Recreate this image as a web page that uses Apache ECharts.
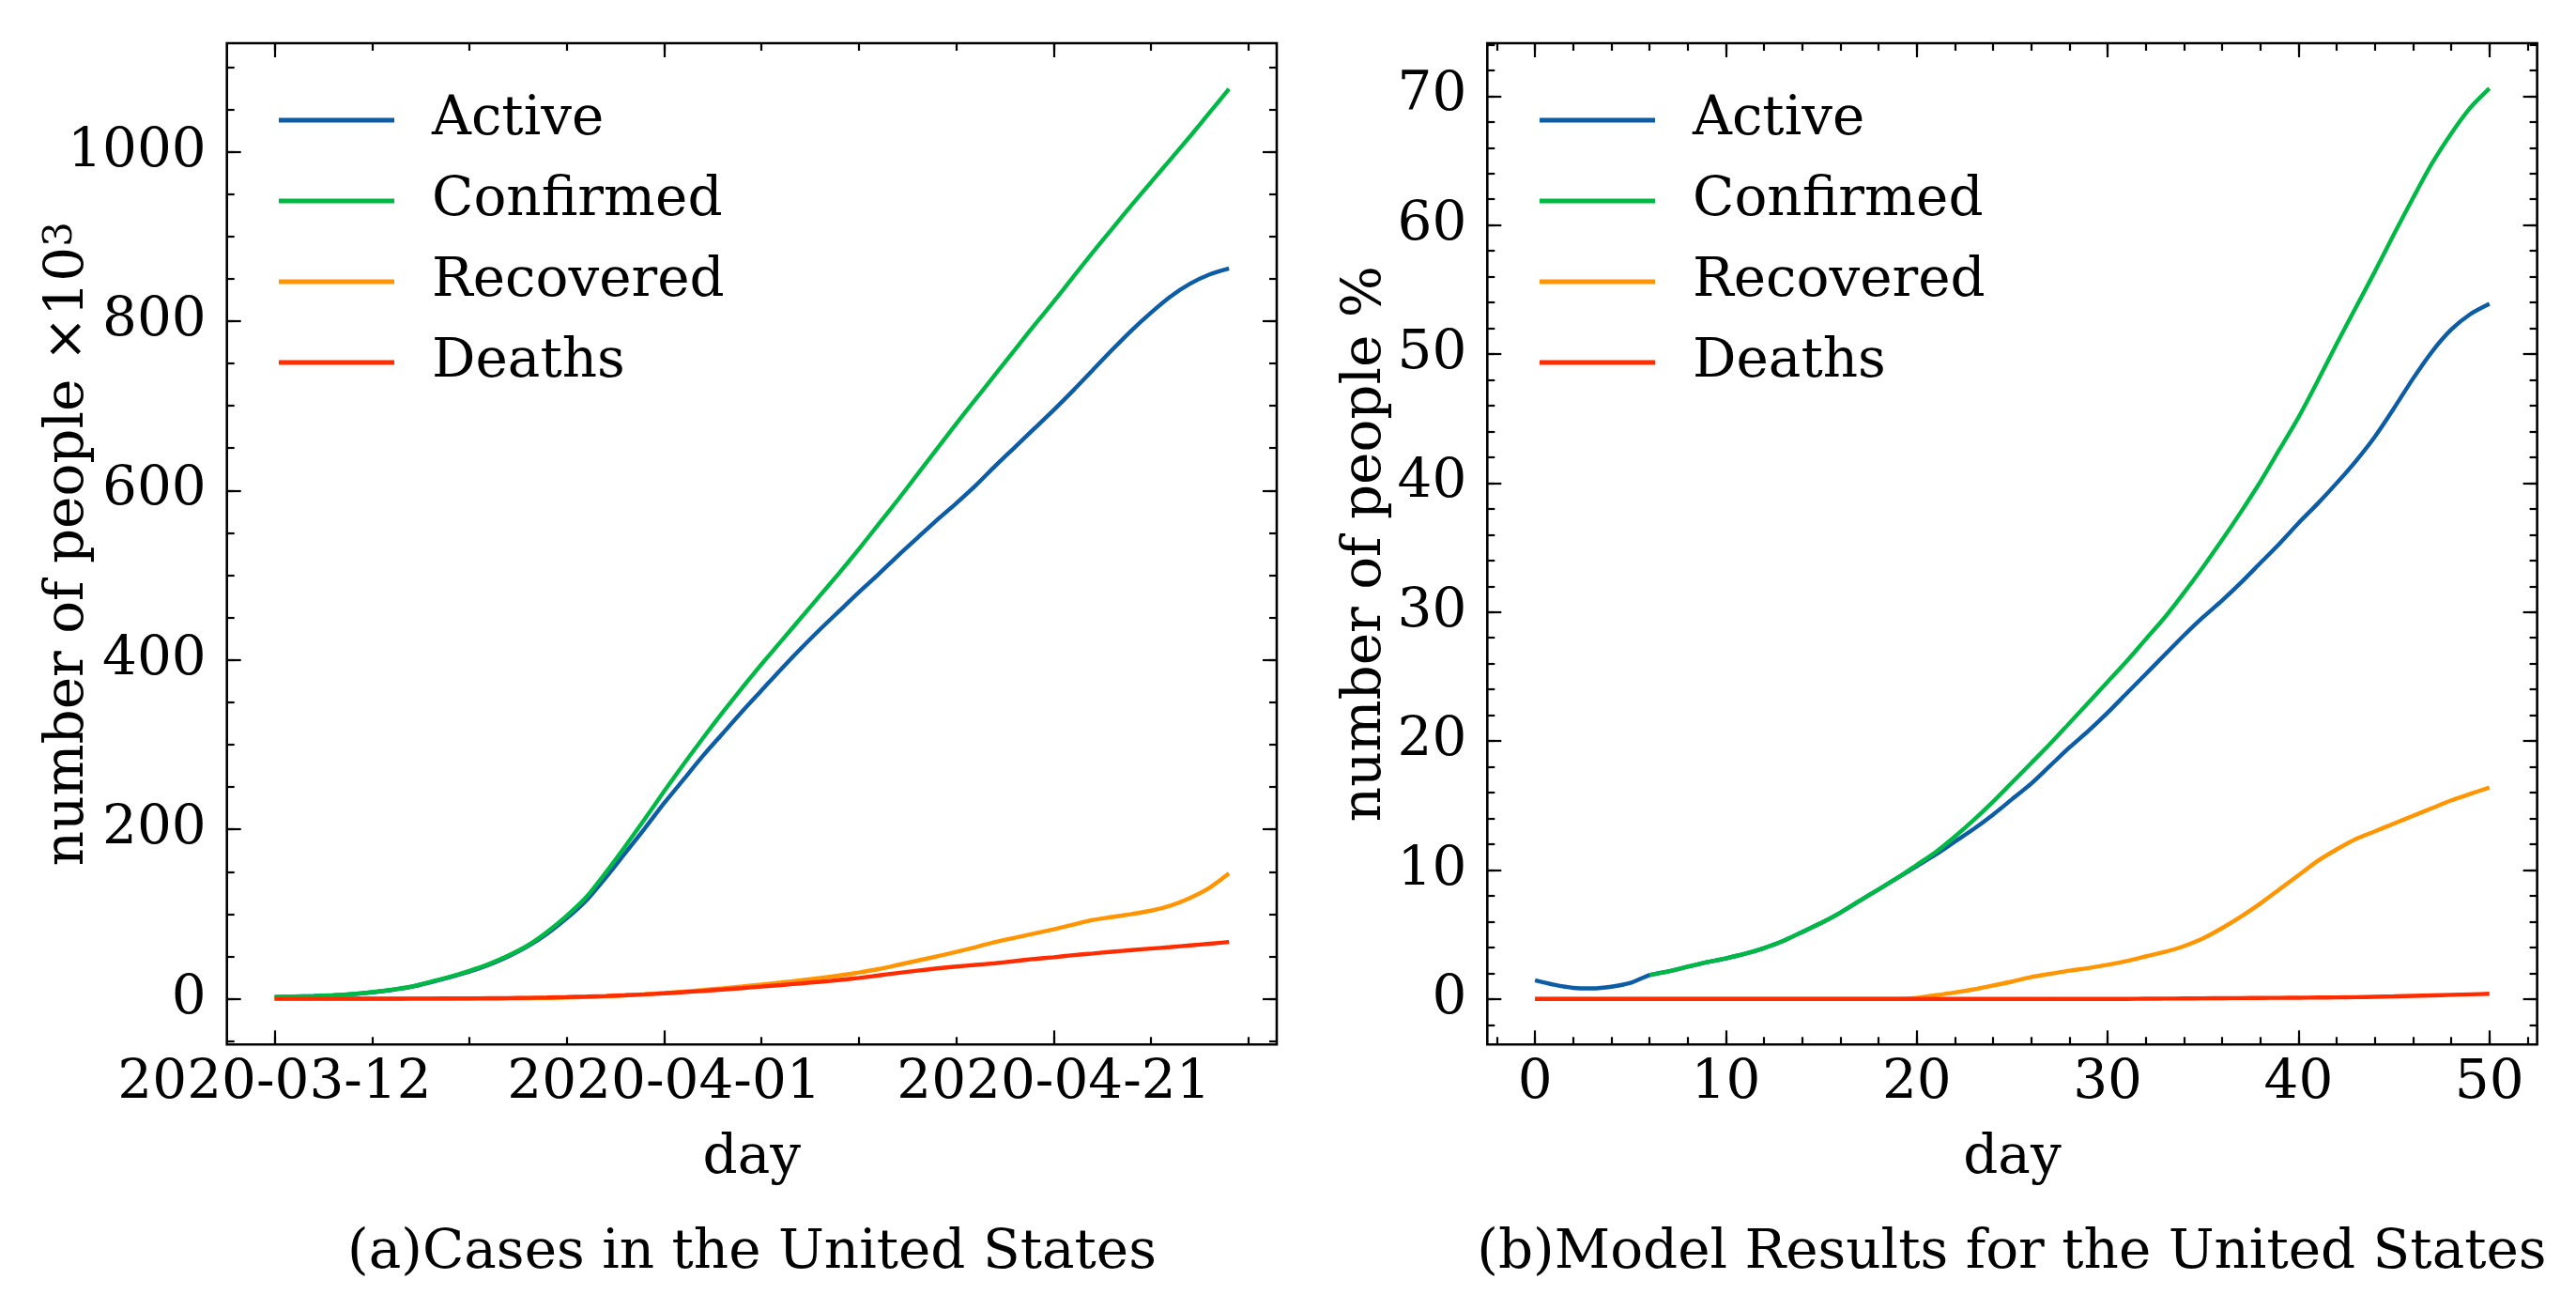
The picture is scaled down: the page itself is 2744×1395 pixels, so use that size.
<!DOCTYPE html>
<html>
<head>
<meta charset="utf-8">
<title>Cases and model results for the United States</title>
<script src="https://cdn.jsdelivr.net/npm/echarts@6/dist/echarts.min.js"></script>
<style>
  html, body { margin: 0; padding: 0; background: #fff; }
  #chart { width: 2744px; height: 1395px; }
</style>
</head>
<body>
<div id="chart"></div>
<script>
// (a) reported cases, thousands of people
const dates = [
  "2020-03-12", "2020-03-13", "2020-03-14", "2020-03-15", "2020-03-16",
  "2020-03-17", "2020-03-18", "2020-03-19", "2020-03-20", "2020-03-21",
  "2020-03-22", "2020-03-23", "2020-03-24", "2020-03-25", "2020-03-26",
  "2020-03-27", "2020-03-28", "2020-03-29", "2020-03-30", "2020-03-31",
  "2020-04-01", "2020-04-02", "2020-04-03", "2020-04-04", "2020-04-05",
  "2020-04-06", "2020-04-07", "2020-04-08", "2020-04-09", "2020-04-10",
  "2020-04-11", "2020-04-12", "2020-04-13", "2020-04-14", "2020-04-15",
  "2020-04-16", "2020-04-17", "2020-04-18", "2020-04-19", "2020-04-20",
  "2020-04-21", "2020-04-22", "2020-04-23", "2020-04-24", "2020-04-25",
  "2020-04-26", "2020-04-27", "2020-04-28", "2020-04-29", "2020-04-30"
];
const casesActive = [
  2.2, 2.6, 3.2, 4.1, 5.5, 7.6, 10.4, 14.0, 19.5, 25.5,
  32, 40, 50, 62, 77, 95, 116, 143, 172, 201,
  231, 259, 287, 313, 339, 364, 389, 413, 436, 458,
  480, 501, 523, 544, 565, 585, 606, 629, 651, 673,
  695, 718, 742, 766, 789, 810, 829, 844, 855, 862
];
const casesConfirmed = [
  2.2, 2.7, 3.3, 4.2, 5.6, 7.8, 10.6, 14.2, 20, 26,
  33, 41, 51, 63, 79, 98, 120, 149, 180, 212,
  245, 277, 308, 338, 367, 395, 422, 449, 476, 503,
  531, 560, 589, 619, 649, 679, 708, 737, 766, 795,
  823, 852, 881, 909, 937, 964, 991, 1018, 1046, 1074
];
const casesRecovered = [
  0.01, 0.01, 0.01, 0.02, 0.02, 0.03, 0.05, 0.07, 0.1, 0.15,
  0.3, 0.4, 0.5, 0.7, 1.0, 1.5, 2.2, 3.0, 4.0, 5.3,
  6.8, 8.5, 10.4, 12.4, 14.5, 16.8, 19.2, 21.7, 24.5, 27.5,
  31, 35, 40, 45, 50, 55.5, 61, 67, 72, 77,
  82, 87.5, 93, 96.5, 100, 104, 110, 119, 131, 148
];
const casesDeaths = [
  0.04, 0.05, 0.06, 0.07, 0.09, 0.11, 0.15, 0.2, 0.26, 0.34,
  0.45, 0.6, 0.8, 1.1, 1.5, 2.0, 2.6, 3.3, 4.2, 5.2,
  6.4, 7.8, 9.3, 10.9, 12.6, 14.4, 16.2, 18.1, 20.0, 22.2,
  24.6, 27.5, 30.5, 33.2, 35.8, 38, 40, 42, 44.5, 47,
  49, 51.5, 53.5, 55.5, 57.5, 59.3, 61, 63, 65, 67
];
const dateTickLabels = ["2020-03-12", "2020-04-01", "2020-04-21"];

// (b) model results, percent of people
const modelDays = [
  0, 1, 2, 3, 4, 5, 6, 7, 8, 9, 10, 11, 12, 13, 14, 15, 16, 17, 18, 19, 20,
  21, 22, 23, 24, 25, 26, 27, 28, 29, 30, 31, 32, 33, 34, 35, 36, 37, 38, 39, 40,
  41, 42, 43, 44, 45, 46, 47, 48, 49, 50
];
const modelActive = [
  1.45, 1.1, 0.86, 0.82, 0.95, 1.25, 1.85, 2.15, 2.5, 2.85,
  3.15, 3.5, 3.95, 4.5, 5.2, 5.9, 6.7, 7.6, 8.5, 9.4,
  10.3, 11.2, 12.2, 13.2, 14.3, 15.5, 16.7, 18.1, 19.5, 20.8,
  22.2, 23.7, 25.2, 26.7, 28.2, 29.6, 30.9, 32.3, 33.8, 35.3,
  36.9, 38.4, 40.0, 41.7, 43.6, 45.8, 48.1, 50.2, 51.9, 53.1, 53.9
];
const modelConfirmed = [
  null, null, null, null, null, null, 1.85, 2.15, 2.5, 2.85,
  3.15, 3.5, 3.95, 4.5, 5.2, 5.9, 6.7, 7.6, 8.5, 9.4,
  10.4, 11.4, 12.6, 13.9, 15.3, 16.8, 18.3, 19.8, 21.4, 23.0,
  24.6, 26.2, 27.9, 29.6, 31.5, 33.5, 35.6, 37.8, 40.1, 42.6,
  45.1, 47.9, 50.8, 53.6, 56.4, 59.3, 62.1, 64.8, 67.1, 69.1, 70.6
];
const modelRecovered = [
  0, 0, 0, 0, 0, 0, 0, 0, 0, 0,
  0, 0, 0, 0, 0, 0, 0, 0, 0, 0,
  0.08, 0.3, 0.5, 0.75, 1.05, 1.35, 1.7, 1.95, 2.2, 2.4,
  2.65, 2.95, 3.3, 3.65, 4.1, 4.7, 5.5, 6.4, 7.4, 8.5,
  9.6, 10.7, 11.6, 12.4, 13.0, 13.6, 14.2, 14.8, 15.4, 15.9, 16.4
];
const modelDeaths = [
  0, 0, 0, 0, 0, 0, 0, 0, 0, 0,
  0, 0, 0, 0, 0, 0, 0, 0, 0, 0,
  0, 0, 0, 0, 0, 0, 0, 0, 0, 0,
  0.01, 0.01, 0.02, 0.03, 0.04, 0.05, 0.06, 0.07, 0.08, 0.09,
  0.1, 0.11, 0.12, 0.14, 0.17, 0.2, 0.24, 0.28, 0.32, 0.36, 0.4
];

const seriesNames = ["Active", "Confirmed", "Recovered", "Deaths"];
const colors = ["#0C5DA5", "#00B945", "#FF9500", "#FF2C00"];

const FONT = "DejaVu Serif";
const FS = 58;

// x positions of the dates for plot (a)
const dayIndex = dates.map((d, i) => i);
const dateTicks = dateTickLabels.map((d) => dates.indexOf(d));

function ticksBetween(lo, hi, step) {
  const out = [];
  for (let v = Math.ceil(lo / step) * step; v <= hi + 1e-9; v += step) {
    out.push(+v.toFixed(6));
  }
  return out;
}

// one axis = ticks (and maybe labels) on one side of one grid
function makeAxis(gridIndex, position, range, ticks, tickLen, label, name) {
  const ax = {
    type: "value",
    gridIndex: gridIndex,
    position: position,
    min: range[0],
    max: range[1],
    axisLine: { show: false, onZero: false },
    splitLine: { show: false },
    axisTick: {
      show: true,
      inside: true,
      length: tickLen,
      customValues: ticks,
      lineStyle: { color: "#000", width: 2.2 },
    },
    axisLabel: { show: false },
  };
  if (label) {
    ax.axisLabel = {
      show: true,
      customValues: ticks,
      formatter: label.formatter,
      margin: label.margin,
      fontFamily: FONT,
      fontSize: FS,
      color: "#000",
    };
  }
  if (name) {
    ax.name = name.text;
    ax.nameLocation = "middle";
    ax.nameGap = name.gap;
    ax.nameMoveOverlap = false;
    ax.nameTextStyle = {
      fontFamily: FONT,
      fontSize: FS,
      color: "#000",
      rich: {
        sup: { fontFamily: FONT, fontSize: 42, color: "#000", verticalAlign: "top", lineHeight: 58 },
      },
    };
  }
  return ax;
}

function buildAxes(gridIndex, xr, yr, xMaj, xMin, yMaj, yMin, xFmt, xName, yName, yGap) {
  const xAxes = [
    makeAxis(gridIndex, "bottom", xr, xMaj, 15, { formatter: xFmt, margin: 13 }, { text: xName, gap: 93 }),
    makeAxis(gridIndex, "bottom", xr, xMin, 8),
    makeAxis(gridIndex, "top", xr, xMaj, 15),
    makeAxis(gridIndex, "top", xr, xMin, 8),
  ];
  const yAxes = [
    makeAxis(gridIndex, "left", yr, yMaj, 15, { formatter: (v) => String(v), margin: 22 }, { text: yName, gap: yGap }),
    makeAxis(gridIndex, "left", yr, yMin, 8),
    makeAxis(gridIndex, "right", yr, yMaj, 15),
    makeAxis(gridIndex, "right", yr, yMin, 8),
  ];
  return { xAxes, yAxes };
}

const rangeAX = [-2.45, 51.45];
const rangeAY = [-54, 1128];
const rangeBX = [-2.5, 52.5];
const rangeBY = [-3.53, 74.1];

const axesA = buildAxes(
  0, rangeAX, rangeAY,
  dateTicks, ticksBetween(rangeAX[0], rangeAX[1], 5),
  ticksBetween(0, 1000, 200), ticksBetween(rangeAY[0], rangeAY[1], 50),
  (v) => dates[v], "day", "number of people ×10{sup|3}", 140
);
const axesB = buildAxes(
  1, rangeBX, rangeBY,
  ticksBetween(0, 50, 10), ticksBetween(rangeBX[0], rangeBX[1], 2),
  ticksBetween(0, 70, 10), ticksBetween(rangeBY[0], rangeBY[1], 2),
  (v) => String(v), "day", "number of people %", 100
);

function lineSeries(name, color, xs, ys, axisIndex) {
  return {
    name: name,
    type: "line",
    xAxisIndex: axisIndex,
    yAxisIndex: axisIndex,
    data: xs.map((x, i) => [x, ys[i]]),
    showSymbol: false,
    symbol: "none",
    smooth: 0.25,
    connectNulls: false,
    lineStyle: { color: color, width: 4.4 },
    itemStyle: { color: color },
    emphasis: { disabled: true },
    animation: false,
  };
}

const casesData = [casesActive, casesConfirmed, casesRecovered, casesDeaths];
const modelData = [modelActive, modelConfirmed, modelRecovered, modelDeaths];

const series = [];
seriesNames.forEach((n, i) => series.push(lineSeries(n, colors[i], dayIndex, casesData[i], 0)));
seriesNames.forEach((n, i) => series.push(lineSeries(n, colors[i], modelDays, modelData[i], 4)));

function legendAt(left) {
  return {
    orient: "vertical",
    left: left,
    top: 94,
    data: seriesNames,
    icon: "rect",
    itemWidth: 123,
    itemHeight: 5,
    itemGap: 28,
    selectedMode: false,
    textStyle: {
      fontFamily: FONT,
      fontSize: FS,
      color: "#000",
      lineHeight: 58,
      padding: [0, 0, 0, 35],
    },
  };
}

const chart = echarts.init(document.getElementById("chart"));
chart.setOption({
  backgroundColor: "#fff",
  animation: false,
  grid: [
    { left: 241.7, top: 46, width: 1118.3, height: 1066.3, show: true, borderColor: "#000", borderWidth: 2.6, backgroundColor: "transparent" },
    { left: 1584.3, top: 46, width: 1118.3, height: 1066.3, show: true, borderColor: "#000", borderWidth: 2.6, backgroundColor: "transparent" },
  ],
  xAxis: axesA.xAxes.concat(axesB.xAxes),
  yAxis: axesA.yAxes.concat(axesB.yAxes),
  legend: [legendAt(292), legendAt(1635)],
  series: series,
  graphic: [
    {
      type: "text",
      x: 801,
      y: 1335,
      style: { text: "(a)Cases in the United States", font: FS + 'px "' + FONT + '"', fill: "#000", align: "center", verticalAlign: "middle" },
    },
    {
      type: "text",
      x: 2143,
      y: 1335,
      style: { text: "(b)Model Results for the United States", font: FS + 'px "' + FONT + '"', fill: "#000", align: "center", verticalAlign: "middle" },
    },
  ],
});
</script>
</body>
</html>
